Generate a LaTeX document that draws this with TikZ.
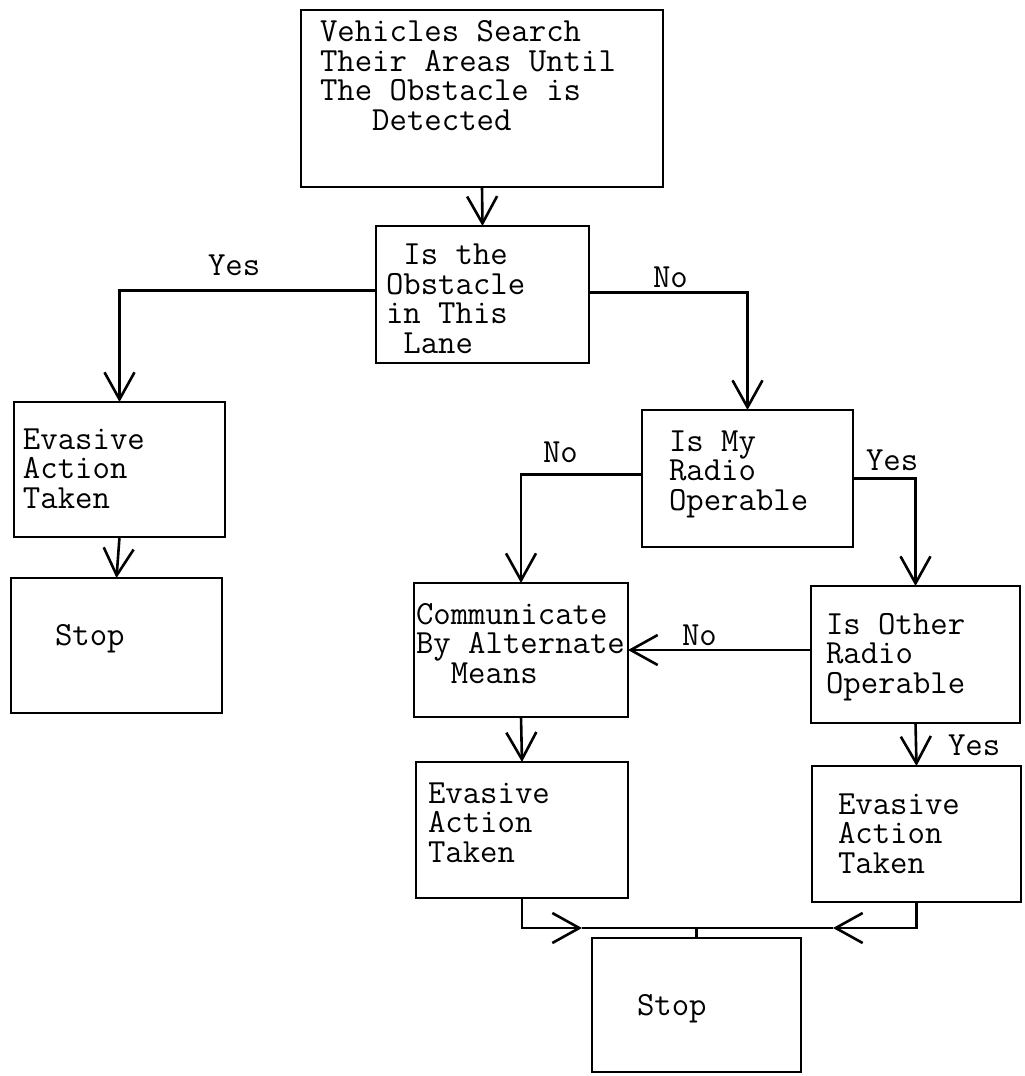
\documentclass[tikz,border=0pt]{standalone}
\usetikzlibrary{arrows.meta}

\begin{document}
\begin{tikzpicture}[
    x=1pt, y=-1pt,
    every node/.style={inner sep=0pt, outer sep=0pt},
    % anchored at the baseline of the last line
    tw/.style={font=\fontsize{33.8pt}{29.5pt}\selectfont\ttfamily, align=left, anchor=base west},
    box/.style={draw, rectangle, line width=2.8pt},
    link/.style={line width=2.6pt},
    arr/.style={link, -{Straight Barb[length=27pt, width=30pt, line width=2.6pt]}}
  ]
  % page
  \fill[white] (0,0) rectangle (1025,1076);
  \useasboundingbox (0,0) rectangle (1025,1076);

  % boxes
  \node[box, minimum width=362pt, minimum height=177pt] (A) at (482,98.5) {};
  \node[box, minimum width=213pt, minimum height=137pt] (B) at (482.5,294.5) {};
  \node[box, minimum width=211pt, minimum height=135pt] (C) at (119.5,469.5) {};
  \node[box, minimum width=211pt, minimum height=135pt] (D) at (116.5,645.5) {};
  \node[box, minimum width=211pt, minimum height=137pt] (E) at (747.5,478.5) {};
  \node[box, minimum width=214pt, minimum height=134pt] (F) at (521,650) {};
  \node[box, minimum width=209pt, minimum height=137pt] (G) at (915.5,654.5) {};
  \node[box, minimum width=212pt, minimum height=136pt] (H) at (522,830) {};
  \node[box, minimum width=209pt, minimum height=136pt] (I) at (916.5,834) {};
  \node[box, minimum width=209pt, minimum height=134pt] (J) at (696.5,1005) {};

  % box texts
  \node[tw] (tA) at (320,130) {Vehicles Search\\Their Areas Until\\The Obstacle is\\\phantom{XXX}Detected};
  \node[tw] (tB) at (386,353) {\phantom{X}Is the\\Obstacle\\in This\\\phantom{X}Lane};
  \node[tw] (tC) at (23,508) {Evasive\\Action\\Taken};
  \node[tw] (tD) at (55,645) {Stop};
  \node[tw] (tE) at (669,510) {Is My\\Radio\\Operable};
  \node[tw] (tF) at (416,683) {Communicate\\By Alternate\\\phantom{XX}Means};
  \node[tw] (tG) at (826,693) {Is Other\\Radio\\Operable};
  \node[tw] (tH) at (428,862) {Evasive\\Action\\Taken};
  \node[tw] (tI) at (838,873) {Evasive\\Action\\Taken};
  \node[tw] (tJ) at (637,1015) {Stop};

  % branch labels
  \node[tw] (yes1) at (208,275) {Yes};
  \node[tw] (no1) at (653,287) {No};
  \node[tw] (no2) at (543,462) {No};
  \node[tw] (yes2) at (866,470) {Yes};
  \node[tw] (no3) at (682,645) {No};
  \node[tw] (yes3) at (948,755) {Yes};

  % connectors
  \draw[arr] (A.south) -- (B.north);
  \draw[arr] ([yshift=4pt]B.west) -| (C.north);
  \draw[arr] ([yshift=2pt]B.east) -| (E.north);
  \draw[arr] (C.south) -- (D.north);
  \draw[arr] ([yshift=4pt]E.west) -| (F.north);
  \draw[arr] (E.east) -| (G.north);
  \draw[arr] (G.west |- F.east) -- (F.east);
  \draw[arr] (F.south) -- (H.north);
  \draw[arr] (G.south) -- (I.north);

  % merge into the final stop
  \coordinate (join) at ([yshift=10pt]J.north);
  \coordinate (tipL) at (582,928);
  \coordinate (tipR) at (833,928);
  \draw[arr] (H.south) |- (tipL);
  \draw[link] (tipL) -- (join);
  \draw[arr] (I.south) |- (tipR);
  \draw[link] (tipR) -- (join);
  \draw[link] (join) -- (J.north);
\end{tikzpicture}
\end{document}
